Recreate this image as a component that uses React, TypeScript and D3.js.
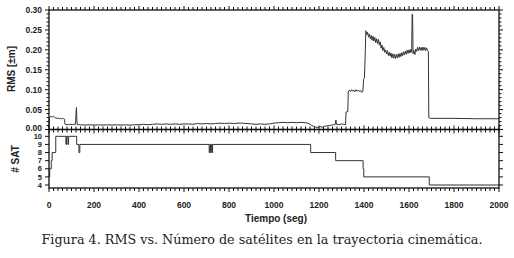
import React from "react";
import * as d3 from "d3";

// RMS series (time in s, RMS in m)
const rmsT = [
  0, 2, 8, 14, 20, 26, 30, 36, 40, 46, 50, 56, 60, 66, 69, 71, 74, 80, 88, 96, 104, 112, 118, 120, 122, 124, 126, 130,
  140, 160, 180, 200, 220, 240, 260, 280, 300, 320, 340, 360, 380, 400, 420, 440, 460, 480, 500, 520, 540, 560, 580,
  600, 620, 640, 660, 680, 700, 720, 740, 760, 780, 800, 820, 840, 860, 880, 900, 920, 940, 960, 980, 1000, 1020,
  1040, 1060, 1080, 1100, 1120, 1140, 1155, 1165, 1175, 1185, 1195, 1205, 1215, 1225, 1235, 1245, 1255, 1265, 1272,
  1275, 1278, 1290, 1300, 1310, 1318,
  1320, 1328, 1330, 1335, 1340, 1345, 1350, 1355, 1360, 1365, 1370, 1375, 1380, 1385, 1390, 1395, 1398, 1402, 1406,
  1408, 1412, 1416, 1420, 1424, 1428, 1432, 1436, 1440, 1444, 1448, 1452, 1456, 1460, 1464, 1468, 1472, 1476, 1480,
  1484, 1488, 1492, 1496, 1500, 1504, 1508, 1512, 1516, 1520, 1524, 1528, 1532, 1536, 1540, 1544, 1548, 1552, 1556,
  1560, 1564, 1568, 1572, 1576, 1580, 1584, 1588, 1592, 1596, 1600, 1604, 1608, 1612, 1614, 1616, 1618, 1622, 1626,
  1630, 1634, 1638, 1642, 1646, 1650, 1654, 1658, 1662, 1666, 1670, 1674, 1678, 1682, 1686, 1688, 1695, 1720, 1800,
  1900, 2000,
];
const rmsV = [
  0.004, 0.030, 0.033, 0.031, 0.033, 0.030, 0.029, 0.028, 0.029, 0.027, 0.028, 0.027, 0.028, 0.027, 0.026, 0.013,
  0.012, 0.013, 0.012, 0.013, 0.012, 0.013, 0.013, 0.040, 0.055, 0.020, 0.012, 0.012,
  0.012, 0.011, 0.012, 0.011, 0.012, 0.011, 0.012, 0.011, 0.012, 0.011, 0.012, 0.011, 0.012, 0.012, 0.013, 0.012,
  0.013, 0.014, 0.013, 0.014, 0.013, 0.014, 0.013, 0.014, 0.014, 0.013, 0.015, 0.014, 0.015, 0.014, 0.015, 0.016,
  0.015, 0.016, 0.015, 0.016, 0.016, 0.015, 0.014, 0.013, 0.014, 0.013, 0.014, 0.016, 0.017, 0.018, 0.017, 0.018,
  0.017, 0.018, 0.017, 0.015, 0.011, 0.008, 0.006, 0.005, 0.007, 0.006, 0.008, 0.009, 0.010, 0.011, 0.012, 0.013,
  0.024, 0.013, 0.012, 0.014, 0.013, 0.012,
  0.044, 0.045, 0.095, 0.099, 0.095, 0.100, 0.096, 0.099, 0.095, 0.100, 0.096, 0.099, 0.095, 0.098, 0.093, 0.096,
  0.125, 0.130, 0.200, 0.248, 0.238, 0.244, 0.232, 0.240, 0.228, 0.236, 0.224, 0.234, 0.222, 0.231, 0.218, 0.228,
  0.216, 0.226, 0.212, 0.220, 0.204, 0.212, 0.198, 0.206, 0.194, 0.200, 0.190, 0.198, 0.186, 0.194, 0.184, 0.192,
  0.180, 0.190, 0.179, 0.189, 0.178, 0.188, 0.180, 0.190, 0.181, 0.191, 0.183, 0.193, 0.185, 0.195, 0.187, 0.197,
  0.189, 0.199, 0.191, 0.200, 0.192, 0.201, 0.194, 0.290, 0.288, 0.190, 0.198, 0.188, 0.202, 0.196, 0.206, 0.198,
  0.207, 0.199, 0.206, 0.198, 0.207, 0.199, 0.206, 0.198, 0.205, 0.199, 0.196, 0.030, 0.028, 0.028, 0.028, 0.027,
  0.027,
];

// Number of satellites (step after)
const satT = [0, 3, 10, 14, 30, 75, 78, 84, 87, 123, 133, 137, 712, 715, 718, 721, 724, 727, 1163, 1274, 1396, 1399, 1690, 2000];
const satV = [5, 6, 7, 8, 10, 9, 10, 9, 10, 9, 8, 9, 8, 9, 8, 9, 8, 9, 8, 7, 6, 5, 4, 4];

const xTicks = [0, 200, 400, 600, 800, 1000, 1200, 1400, 1600, 1800, 2000];
const rmsTicks = [0, 0.05, 0.1, 0.15, 0.2, 0.25, 0.3];
const satTicks = [4, 5, 6, 7, 8, 9, 10];

const TEXT_FONT = "'Liberation Sans', Arial, sans-serif";

export default function App() {
  const W = 514, H = 258;
  const L = 49, R = 499;
  const topY0 = 10, topY1 = 129.5;
  const botY0 = 129.5, botY1 = 188;

  const x = d3.scaleLinear().domain([0, 2000]).range([L, R]);
  const yR = d3.scaleLinear().domain([0, 0.3]).range([topY1, topY0]);
  const yS = d3.scaleLinear().domain([3.63, 10.84]).range([botY1, botY0]);

  const rmsLine = d3.line<number>().x((_, i) => x(rmsT[i])).y((d) => yR(d));
  const satLine = d3
    .line<number>()
    .x((_, i) => x(satT[i]))
    .y((d) => yS(d))
    .curve(d3.curveStepAfter);

  const minorX = d3.range(0, 2001, 20);
  const minorR = d3.range(0, 0.3001, 0.01);

  const ink = "#111";
  const tickEls: React.ReactNode[] = [];
  minorX.forEach((t, i) => {
    const major = Math.abs(t % 200) < 1e-6;
    const len = major ? 4 : 3;
    const px = x(t);
    tickEls.push(<line key={`tt${i}`} x1={px} x2={px} y1={topY0} y2={topY0 - len} />);
    tickEls.push(<line key={`tm${i}`} x1={px} x2={px} y1={topY1 - len} y2={botY0 + len} />);
    tickEls.push(<line key={`tb${i}`} x1={px} x2={px} y1={botY1} y2={botY1 + len} />);
  });
  minorR.forEach((v, i) => {
    const major = Math.abs(Math.round(v * 100) % 5) === 0;
    const len = major ? 4 : 2.5;
    const py = yR(v);
    tickEls.push(<line key={`rl${i}`} x1={L} x2={L - len} y1={py} y2={py} />);
    tickEls.push(<line key={`rr${i}`} x1={R} x2={R + len} y1={py} y2={py} />);
  });
  satTicks.forEach((v, i) => {
    const py = yS(v);
    tickEls.push(<line key={`sl${i}`} x1={L} x2={L - 4} y1={py} y2={py} />);
    tickEls.push(<line key={`sr${i}`} x1={R} x2={R + 4} y1={py} y2={py} />);
  });

  return (
    <svg
      width={W}
      height={H}
      style={{ position: "fixed", left: 0, top: 0, background: "#fff" }}
    >
      <rect width={W} height={H} fill="#fff" />
      <g stroke={ink} strokeWidth={1}>{tickEls}</g>

      <path d={rmsLine(rmsV) || ""} fill="none" stroke="#333" strokeWidth={1} />
      <path d={satLine(satV) || ""} fill="none" stroke="#333" strokeWidth={1} />

      <rect x={L} y={topY0} width={R - L} height={topY1 - topY0} fill="none" stroke={ink} strokeWidth={1.3} />
      <rect x={L} y={botY0} width={R - L} height={botY1 - botY0} fill="none" stroke={ink} strokeWidth={1.3} />

      <g fontFamily={TEXT_FONT} fontWeight="bold" fontSize={8.5} fill="#222">
        {rmsTicks.map((v) => (
          <text key={`rt${v}`} x={L - 7} y={yR(v) - (v === 0 ? 1 : 0)} dy="0.35em" textAnchor="end">
            {v.toFixed(2)}
          </text>
        ))}
      </g>
      <g fontFamily={TEXT_FONT} fontWeight="bold" fontSize={7.5} fill="#222">
        {satTicks.map((v) => (
          <text key={`st${v}`} x={L - 7} y={yS(v)} dy="0.35em" textAnchor="end">
            {v}
          </text>
        ))}
      </g>
      <g fontFamily={TEXT_FONT} fontWeight="bold" fontSize={8.5} fill="#222">
        {xTicks.map((t) => (
          <text key={`xt${t}`} x={x(t)} y={205} dy="0.35em" textAnchor="middle">
            {t}
          </text>
        ))}
      </g>

      <g fontFamily={TEXT_FONT} fontWeight="bold" fontSize={10} fill="#222">
        <text transform={`translate(15,69) rotate(-90)`} textAnchor="middle">
          RMS [±m]
        </text>
        <text transform={`translate(19,159) rotate(-90)`} textAnchor="middle">
          # SAT
        </text>
        <text x={276} y={218} dy="0.35em" textAnchor="middle">
          Tiempo (seg)
        </text>
      </g>

      <text
        x={262}
        y={240}
        dy="0.35em"
        textAnchor="middle"
        fontFamily="'DejaVu Serif', 'Liberation Serif', serif"
        fontSize={12.5}
        textLength={441}
        lengthAdjust="spacingAndGlyphs"
        fill="#222"
      >
        Figura 4. RMS vs. Número de satélites en la trayectoria cinemática.
      </text>
    </svg>
  );
}
